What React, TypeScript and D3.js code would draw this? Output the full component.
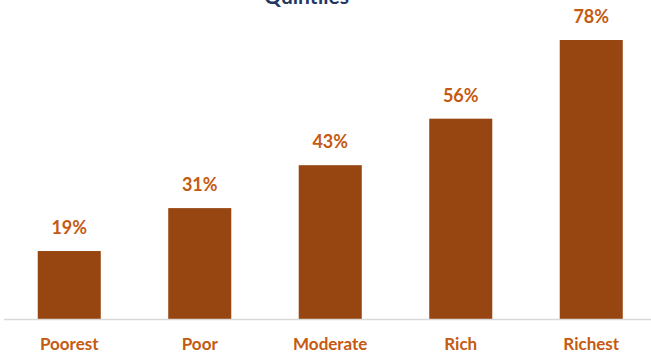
import React from "react";
import * as d3 from "d3";

const categories = ["Poorest", "Poor", "Moderate", "Rich", "Richest"];
const values = [19, 31, 43, 56, 78];
const titleText = "Quintiles";

const W = 651;
const H = 356;

export default function App() {
  const x = d3.scaleBand<string>().domain(categories).range([4, 656.5]).paddingInner(0.517).paddingOuter(0.2585);
  const baseY = 319;
  const y = d3.scaleLinear().domain([0, 90]).range([baseY, baseY - 90 * 3.577]);
  const font = "Lato, 'Open Sans', sans-serif";
  return (
    <svg width={W} height={H} style={{ position: "absolute", left: 0, top: 0, display: "block" }}>
      <rect width={W} height={H} fill="#ffffff" />
      <text x={349} y={4} textAnchor="end" fontFamily={font} fontWeight={700} fontSize={21} fill="#1F3864">
        {titleText}
      </text>
      {categories.map((c, i) => (
        <g key={c}>
          <rect x={x(c)} y={y(values[i])} width={x.bandwidth()} height={baseY - y(values[i])} fill="#974511" />
          <text
            x={(x(c) as number) + x.bandwidth() / 2}
            y={y(values[i]) - 17}
            textAnchor="middle"
            fontFamily={font}
            fontWeight={700}
            fontSize={18}
            fill="#C55A11"
          >
            {values[i]}%
          </text>
          <text
            x={(x(c) as number) + x.bandwidth() / 2}
            y={350}
            textAnchor="middle"
            fontFamily={font}
            fontWeight={700}
            fontSize={17}
            fill="#C55A11"
          >
            {c}
          </text>
        </g>
      ))}
      <line x1={4} x2={W} y1={baseY + 0.5} y2={baseY + 0.5} stroke="#D9D9D9" strokeWidth={1.5} />
    </svg>
  );
}
